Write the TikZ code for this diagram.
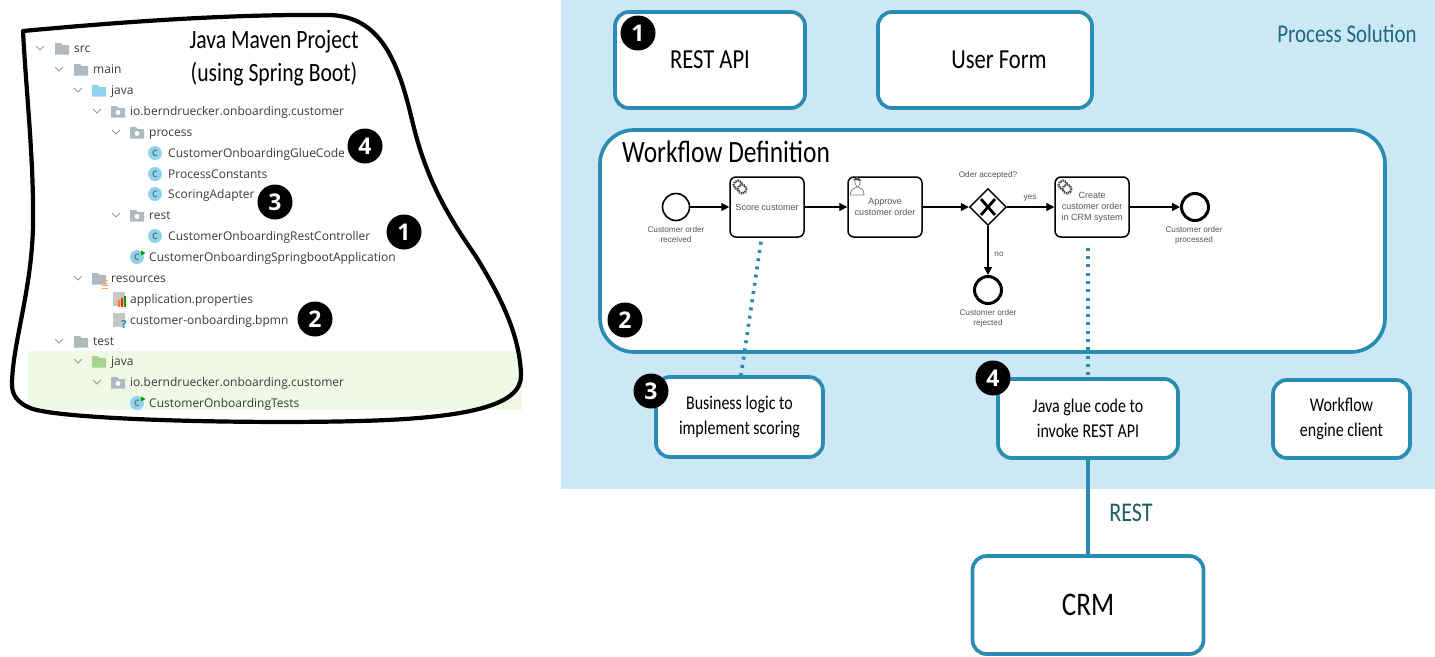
\documentclass[tikz,border=0pt]{standalone}
\usepackage{fontspec}
\setmainfont{Open Sans}
\newfontfamily\handfont[FakeStretch=0.82]{Carlito}
\newfontfamily\bpmnfont{Liberation Sans}
\usetikzlibrary{arrows.meta,shapes.geometric,calc}
\definecolor{panel}{HTML}{CCE8F5}
\definecolor{boxline}{HTML}{2A8CB3}
\definecolor{titleblue}{HTML}{1B6A86}
\definecolor{restgreen}{HTML}{1D5F5F}
\definecolor{foldergray}{HTML}{AEB9C0}
\definecolor{folderblue}{HTML}{8ED4EE}
\definecolor{foldergreen}{HTML}{A6D38F}
\definecolor{bandgreen}{HTML}{EFF9E6}
\definecolor{treetext}{HTML}{3A3A3A}
\definecolor{bpmntext}{HTML}{555555}
\tikzset{
  x=1pt,y=-1pt,
  sketchbox/.style={draw=boxline,line width=3.7pt,rounded corners=14pt,fill=white,inner sep=0pt,align=center,font=\handfont},
  badge/.style={circle,fill=black,text=white,minimum size=35pt,inner sep=0pt,font=\fontsize{23}{23}\selectfont\bfseries},
  treelabel/.style={anchor=base west,yshift=-4.5pt,inner sep=0pt,text=treetext,font=\fontsize{12}{14}\selectfont},
  chev/.style={draw=gray!80,line width=0.9pt},
  task/.style={draw=black,line width=1.5pt,rounded corners=6pt,fill=white,minimum width=74pt,minimum height=60pt,inner sep=0pt,align=center,text=bpmntext,font=\bpmnfont\fontsize{9}{11}\selectfont},
  bpmnlabel/.style={inner sep=0pt,align=center,text=bpmntext,font=\bpmnfont\fontsize{8.2}{10}\selectfont},
  flow/.style={draw=black,line width=1.4pt,-{Triangle[length=8pt,width=8pt]}},
  dots/.style={draw=boxline,line width=3.6pt,dash pattern=on 3pt off 5.3pt},
  handtitle/.style={inner sep=0pt,align=center,font=\handfont},
  smallhand/.style={font=\handfont\fontsize{19.5}{25}\selectfont},
}
\newcommand{\foldericon}[3]{\fill[#3] (#1-7,#2-5) -- (#1-1,#2-5) -- (#1+1,#2-3) -- (#1+7,#2-3) -- (#1+7,#2+6.5) -- (#1-7,#2+6.5) -- cycle;}
\newcommand{\pkgicon}[2]{\foldericon{#1}{#2}{foldergray}\fill[white] (#1,#2+1.5) circle (2.4);}
\newcommand{\classicon}[2]{\fill[folderblue] (#1,#2) circle (7);\node[inner sep=0pt,text=gray!90!black,font=\fontsize{9}{9}\selectfont\bfseries] at (#1,#2) {C};}
\newcommand{\chevron}[2]{\draw[chev] (#1-4,#2-2) -- (#1,#2+2) -- (#1+4,#2-2);}
\newcommand{\gearicon}[2]{\draw[gray!55!black,line width=2.3pt,dash pattern=on 1.3pt off 0.9pt,fill=white] (#1-2,#2-2) circle (4.4);\draw[gray!55!black,line width=2.3pt,dash pattern=on 1.3pt off 0.9pt,fill=white] (#1+2,#2+2) circle (4.4);}
\begin{document}
\begin{tikzpicture}
\useasboundingbox (0,0) rectangle (1435,656);
\fill[white] (0,0) rectangle (1435,656);
% ---------- left: project tree ----------
\fill[bandgreen] (28,351) rectangle (522,410);
\draw[black,line width=4.2pt,line join=round,line cap=round]
  (23,31) .. controls (120,22) and (230,14) .. (330,15)
  .. controls (380,17) and (398,60) .. (412,120)
  .. controls (424,170) and (440,205) .. (475,255)
  .. controls (500,295) and (520,335) .. (521,375)
  .. controls (522,405) and (470,418) .. (360,421)
  .. controls (250,424) and (60,420) .. (30,408)
  .. controls (18,403) and (12,395) .. (12,385)
  .. controls (12,345) and (32,290) .. (33,225)
  .. controls (34,160) and (26,90) .. (23,31) -- cycle;
\node[handtitle,text=black,font=\handfont\fontsize{26.4}{33}\selectfont] (projtitle) at (274,58) {Java Maven Project\\(using Spring Boot)};
\chevron{40}{48}\foldericon{62}{48}{foldergray}\node[treelabel] (t1) at (74,48) {src};
\chevron{59}{69}\foldericon{81}{69}{foldergray}\node[treelabel] (t2) at (93,69) {main};
\chevron{78}{90}\foldericon{99}{90}{folderblue}\node[treelabel] (t3) at (111,90) {java};
\chevron{97}{111}\pkgicon{118}{111}\node[treelabel] (t4) at (130,111) {io.berndruecker.onboarding.customer};
\chevron{116}{132}\pkgicon{137}{132}\node[treelabel] (t5) at (149,132) {process};
\classicon{155}{153}\node[treelabel] (t6) at (168,153) {CustomerOnboardingGlueCode};
\classicon{155}{174}\node[treelabel] (t7) at (168,174) {ProcessConstants};
\classicon{155}{194}\node[treelabel] (t8) at (168,194) {ScoringAdapter};
\chevron{116}{215}\pkgicon{137}{215}\node[treelabel] (t9) at (149,215) {rest};
\classicon{155}{236}\node[treelabel] (t10) at (168,236) {CustomerOnboardingRestController};
\classicon{137}{257}\fill[green!60!black] (141,250.5) -- (145.5,253) -- (141,255.5) -- cycle;\node[treelabel] (t11) at (149,257) {CustomerOnboardingSpringbootApplication};
\chevron{78}{278}\foldericon{99}{278}{foldergray}\draw[orange!70,line width=0.9pt] (102,280.5) -- (108,280.5) (102,283) -- (108,283) (102,285.5) -- (108,285.5) (102,288) -- (108,288);\node[treelabel] (t12) at (111,278) {resources};
\fill[gray!45] (113,292) rectangle (125,306);\fill[orange] (118,300) rectangle (120,307);\fill[red!70!orange] (121,298) rectangle (123,307);\fill[green!60!black] (124,296) rectangle (126,307);\node[treelabel] (t13) at (130,299) {application.properties};
\fill[gray!45] (113,313) rectangle (125,327);\node[inner sep=0pt,text=cyan!70!blue,font=\fontsize{11}{11}\selectfont\bfseries] at (124,325) {?};\node[treelabel] (t14) at (130,320) {customer-onboarding.bpmn};
\chevron{59}{341}\foldericon{81}{341}{foldergray}\node[treelabel] (t15) at (93,341) {test};
\chevron{78}{361}\foldericon{99}{361}{foldergreen}\node[treelabel] (t16) at (111,361) {java};
\chevron{97}{382}\pkgicon{118}{382}\node[treelabel] (t17) at (130,382) {io.berndruecker.onboarding.customer};
\classicon{137}{403}\fill[green!60!black] (141,396.5) -- (145.5,399) -- (141,401.5) -- cycle;\node[treelabel] (t18) at (149,403) {CustomerOnboardingTests};
\node[badge] (lb4) at (365,146) {4};
\node[badge] (lb3) at (275,202) {3};
\node[badge] (lb1) at (404,232) {1};
\node[badge] (lb2) at (315,319) {2};
% ---------- right: process solution ----------
\fill[panel] (561,0) rectangle (1435,489);
\node[handtitle,text=titleblue,font=\handfont\fontsize{25.5}{27}\selectfont] (pstitle) at (1347,34) {Process Solution};
\node[sketchbox,minimum width=190pt,minimum height=96pt,font=\handfont\fontsize{27.5}{30}\selectfont] (rest) at (710,60) {REST API};
\node[sketchbox,minimum width=214pt,minimum height=96pt,font=\handfont\fontsize{27.5}{30}\selectfont] (form) at (985,60) {\hspace*{28pt}User Form};
\node[sketchbox,rounded corners=34pt,minimum width=785pt,minimum height=222pt] (wf) at (992.5,241) {};
\node[handtitle,anchor=west,text=black,font=\handfont\fontsize{31}{33}\selectfont] (wftitle) at (622,152) {Workflow Definition};
\node[sketchbox,smallhand,minimum width=167pt,minimum height=80pt] (logic) at (739.5,417) {Business logic to\\implement scoring};
\node[sketchbox,smallhand,minimum width=180pt,minimum height=79pt] (glue) at (1088,418.5) {Java glue code to\\invoke REST API};
\node[sketchbox,smallhand,minimum width=137pt,minimum height=78pt] (client) at (1341.5,419) {Workflow\\engine client};
\node[sketchbox,minimum width=231pt,minimum height=98pt,font=\handfont\fontsize{33}{36}\selectfont] (crm) at (1088,605) {CRM};
\draw[boxline,line width=3.7pt] (glue.south) -- (crm.north);
\node[handtitle,text=restgreen,font=\handfont\fontsize{27}{29}\selectfont] (restlabel) at (1131,513) {REST};
\node[badge] (rb1) at (638,33) {1};
\node[badge] (rb2) at (625,320) {2};
\node[badge] (rb3) at (651,391) {3};
\node[badge] (rb4) at (993,378) {4};
% BPMN
\node[circle,draw=black,line width=1.6pt,fill=white,minimum size=27pt,inner sep=0pt] (start) at (676,207) {};
\node[task] (score) at (767,207) {Score customer};
\node[task] (approve) at (885,207) {Approve\\customer order};
\node[diamond,draw=black,line width=1.4pt,fill=white,minimum width=37pt,minimum height=37pt,inner sep=0pt] (gw) at (988,207) {};
\draw[black,line width=2.8pt] ($(gw.center)+(-7,-8)$) -- ($(gw.center)+(7,8)$) ($(gw.center)+(7,-8)$) -- ($(gw.center)+(-7,8)$);
\node[task] (create) at (1092,207) {Create\\customer order\\in CRM system};
\node[circle,draw=black,line width=3pt,fill=white,minimum size=27pt,inner sep=0pt] (endok) at (1195,207) {};
\node[circle,draw=black,line width=3pt,fill=white,minimum size=27pt,inner sep=0pt] (endno) at (988,290) {};
\gearicon{740}{187}
\gearicon{1065}{187}
\draw[gray,line width=0.8pt,fill=white] (850,195) .. controls (851,189) and (854,188) .. (857,187) .. controls (853,182) and (855,178) .. (857,177.5) .. controls (860,178) and (862,182) .. (858,187) .. controls (861,188) and (864,189) .. (864,195) -- cycle;
\fill[black!75] (853,180) .. controls (855,177) and (860,177) .. (861,181) .. controls (858,180) and (855,180) .. (853,180) -- cycle;
\draw[flow] (start) -- (score);
\draw[flow] (score) -- (approve);
\draw[flow] (approve) -- (gw);
\draw[flow] (gw) -- (create);
\draw[flow] (create) -- (endok);
\draw[flow] (gw) -- (endno);
\draw[dots] ($(score.south)+(-6,4)$) -- ($(logic.north)+(1.5,0)$);
\draw[dots] ($(create.south)+(-4,10)$) -- (glue.north);
\node[bpmnlabel] (l1) at (676,235) {Customer order\\received};
\node[bpmnlabel] (l2) at (988,175.5) {Oder accepted?};
\node[bpmnlabel] (l3) at (1030,198.5) {yes};
\node[bpmnlabel] (l4) at (999,254) {no};
\node[bpmnlabel] (l5) at (988,318) {Customer order\\rejected};
\node[bpmnlabel] (l6) at (1194,235) {Customer order\\processed};
\end{tikzpicture}
\end{document}
